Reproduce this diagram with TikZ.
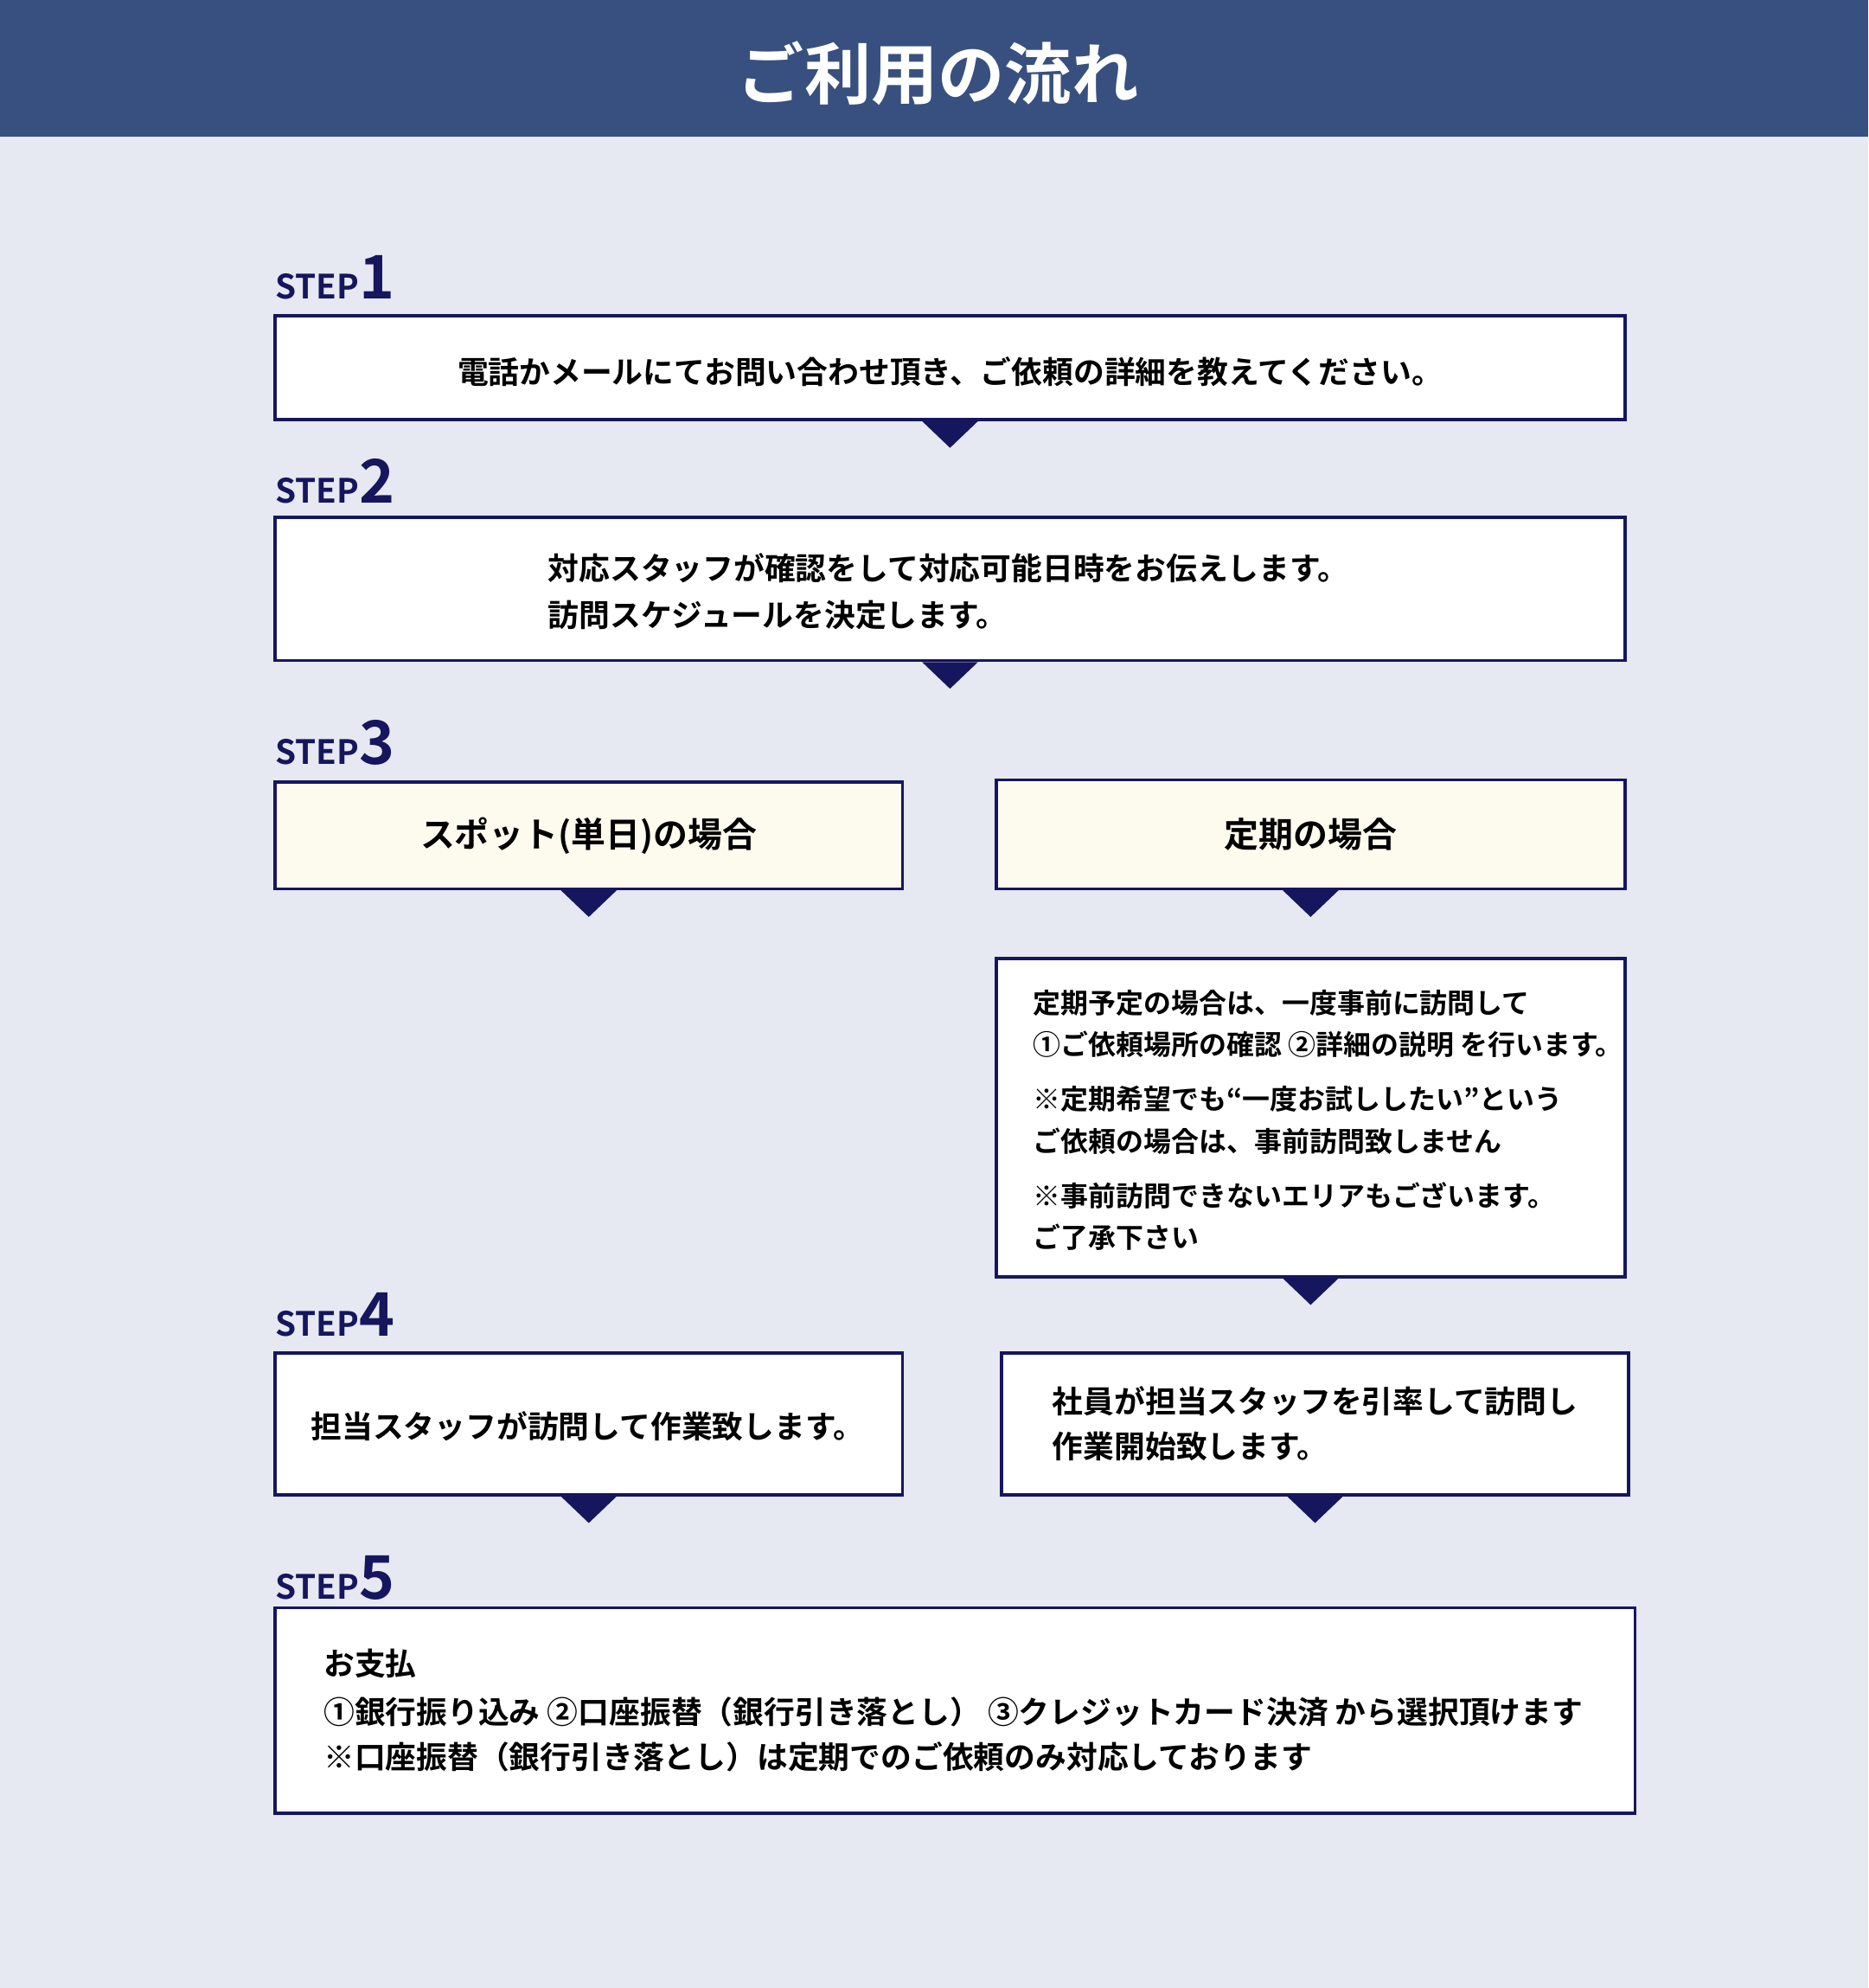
\documentclass[tikz,border=0pt]{standalone}
\usepackage{fontspec}
\setmainfont{Noto Sans CJK JP Bold}
\usetikzlibrary{positioning}
\definecolor{bandblue}{HTML}{38507F}
\definecolor{pagebg}{HTML}{E6E9F2}
\definecolor{navy}{HTML}{16165E}
\definecolor{cream}{HTML}{FDFAEE}
\tikzset{
  flowbox/.style={draw=navy, line width=1.4pt, fill=white, inner sep=0pt},
  casebox/.style={flowbox, fill=cream},
  boxtext/.style={anchor=west, inner sep=0pt, font=\fontsize{13.9}{16}\selectfont, text=black},
  steplabel/.style={anchor=base west, inner sep=0pt, text=navy}
}
\newcommand{\stepmark}[1]{{\fontsize{15}{15}\selectfont STEP}{\fontsize{27}{27}\selectfont #1}}
\newcommand{\pointer}[1]{\fill[navy] ([xshift=-0.44cm]#1.south) -- ([xshift=0.44cm]#1.south) -- ([yshift=-0.42cm]#1.south) -- cycle;}
\begin{document}
\begin{tikzpicture}[x=0.02cm, y=-0.02cm]
  \fill[pagebg] (0,0) rectangle (1474,1568);
  \useasboundingbox (0,0) rectangle (1474,1568);
  \fill[bandblue] (0,0) rectangle (1474,108);
  \node (title) at (740,58) {\fontsize{30}{30}\selectfont\color{white}ご利用の流れ};

  % step 1
  \node[steplabel] (s1) at (217,236) {\stepmark{1}};
  \node[flowbox, minimum width=21.3cm, minimum height=1.64cm] (b1) at (749.5,290) {};
  \node[boxtext, anchor=center] (t1) at ([yshift=-0.06cm]b1.center) {電話かメールにてお問い合わせ頂き、ご依頼の詳細を教えてください。};
  \pointer{b1}

  % step 2
  \node[steplabel] (s2) at (217,397) {\stepmark{2}};
  \node[flowbox, minimum width=21.3cm, minimum height=2.26cm] (b2) at (749.5,464.5) {};
  \node[boxtext] (t2a) at (432,448) {対応スタッフが確認をして対応可能日時をお伝えします。};
  \node[boxtext] (t2b) at (432,485) {訪問スケジュールを決定します。};
  \pointer{b2}

  % step 3
  \node[steplabel] (s3) at (217,603) {\stepmark{3}};
  \node[casebox, minimum width=9.9cm, minimum height=1.68cm] (spot) at (464.5,659) {};
  \node[boxtext, anchor=center, font=\fontsize{15.5}{18}\selectfont] at (spot.center) {スポット(単日)の場合};
  \pointer{spot}
  \node[casebox, minimum width=9.92cm, minimum height=1.72cm] (regular) at (1034,658) {};
  \node[boxtext, anchor=center, font=\fontsize{15.5}{18}\selectfont] at (regular.center) {定期の場合};
  \pointer{regular}

  \node[flowbox, minimum width=9.92cm, minimum height=5.02cm] (visit) at (1034,881.5) {};
  \foreach \ty/\line in {791/定期予定の場合は、一度事前に訪問して,
      824/{①ご依頼場所の確認 ②詳細の説明 を行います。},
      867/※定期希望でも“一度お試ししたい”という,
      900/ご依頼の場合は、事前訪問致しません,
      943/※事前訪問できないエリアもございます。,
      976/ご了承下さい}
    \node[boxtext, font=\fontsize{12.4}{14}\selectfont] at (815,\ty) {\line};
  \pointer{visit}

  % step 4
  \node[steplabel] (s4) at (217,1054) {\stepmark{4}};
  \node[flowbox, minimum width=9.9cm, minimum height=2.24cm] (work) at (464.5,1123) {};
  \node[boxtext] at (245,1125) {担当スタッフが訪問して作業致します。};
  \pointer{work}
  \node[flowbox, minimum width=9.9cm, minimum height=2.24cm] (lead) at (1037.5,1123) {};
  \node[boxtext] at (830,1105) {社員が担当スタッフを引率して訪問し};
  \node[boxtext] at (830,1141) {作業開始致します。};
  \pointer{lead}

  % step 5
  \node[steplabel] (s5) at (217,1261) {\stepmark{5}};
  \node[flowbox, minimum width=21.46cm, minimum height=3.24cm] (pay) at (753.5,1349) {};
  \node[boxtext] at (255,1312) {お支払};
  \node[boxtext] at (255,1350) {①銀行振り込み ②口座振替（銀行引き落とし） ③クレジットカード決済 から選択頂けます};
  \node[boxtext] at (255,1386) {※口座振替（銀行引き落とし）は定期でのご依頼のみ対応しております};
\end{tikzpicture}
\end{document}
